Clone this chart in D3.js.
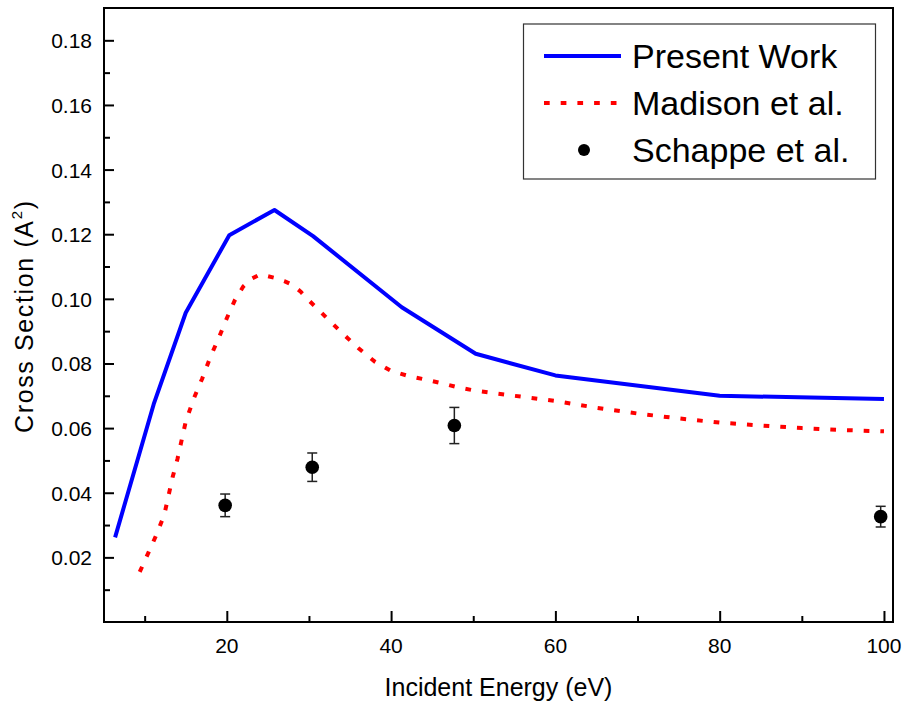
<!DOCTYPE html>
<html>
<head>
<meta charset="utf-8">
<script src="https://cdn.jsdelivr.net/npm/d3@7"></script>
<style>
  body { margin: 0; background: #fff; }
  svg { display: block; font-family: "Liberation Sans", Arial, sans-serif; }
</style>
</head>
<body>
<div id="chart"></div>
<script>
const width = 904;
const height = 704;

// Present Work (solid blue)
const presentX = [6.4, 11.1, 15.0, 20.3, 25.8, 30.5, 41.3, 50.3, 60, 80, 100];
const presentY = [0.0262, 0.0674, 0.0957, 0.1197, 0.1275, 0.1194, 0.0974, 0.0830, 0.0763, 0.0700, 0.0690];

// Madison et al. (red dotted)
const madisonX = [9.4, 10.5, 11.5, 12.4, 13.4, 14.0, 15.0, 16, 17, 18, 19, 20, 21, 22, 23, 24, 25, 26, 27, 28, 29, 30,
  32, 34, 36, 38, 40, 42, 44, 46, 48, 50, 55, 60, 65, 70, 75, 80, 85, 90, 95, 100];
const madisonY = [0.0155, 0.0217, 0.0274, 0.0333, 0.0448, 0.0505, 0.0620, 0.0693, 0.0753, 0.0820, 0.0878, 0.0940,
  0.0997, 0.1038, 0.1062, 0.1075, 0.1070, 0.1064, 0.1055, 0.1043, 0.1022, 0.0995,
  0.0945, 0.0895, 0.0848, 0.0806, 0.0777, 0.0762, 0.0751, 0.0740, 0.0727, 0.0717,
  0.0700, 0.0684, 0.0663, 0.0645, 0.0630, 0.0617, 0.0608, 0.0600, 0.0594, 0.0590];

// Schappe et al. (points with error bars)
const schappeX = [19.8, 30.4, 47.7, 99.6];
const schappeY = [0.0361, 0.0479, 0.0608, 0.0326];
const schappeErr = [0.0035, 0.0044, 0.0056, 0.0032];

const xMajor = [20, 40, 60, 80, 100];
const xMinor = [10, 30, 50, 70, 90];
const yMajor = [0.02, 0.04, 0.06, 0.08, 0.10, 0.12, 0.14, 0.16, 0.18];
const yMinor = [0.01, 0.03, 0.05, 0.07, 0.09, 0.11, 0.13, 0.15, 0.17];

const legendLabels = ['Present Work', 'Madison et al.', 'Schappe et al.'];

const margin = { left: 104, right: 11, top: 8, bottom: 82 };

const x = d3.scaleLinear().domain([5.05, 101.1]).range([margin.left, width - margin.right]);
const y = d3.scaleLinear().domain([0, 0.19]).range([height - margin.bottom, margin.top]);

const svg = d3.select('#chart').append('svg')
    .attr('width', width)
    .attr('height', height);

const plotBottom = height - margin.bottom;
const plotRight = width - margin.right;

// inward ticks
const xAxis = svg.append('g').attr('transform', `translate(0,${plotBottom})`);
xAxis.append('g').call(d3.axisTop(x).tickValues(xMajor).tickSize(11).tickFormat(''));
xAxis.append('g').call(d3.axisTop(x).tickValues(xMinor).tickSize(6).tickFormat(''));
xAxis.selectAll('.domain').remove();
xAxis.selectAll('line').attr('stroke', '#000').attr('stroke-width', 2);

xAxis.selectAll('.xlab')
    .data(xMajor)
    .enter()
    .append('text')
    .attr('x', d => x(d))
    .attr('y', 31)
    .attr('text-anchor', 'middle')
    .attr('font-size', 21)
    .attr('fill', '#000')
    .text(d => d);

const yAxis = svg.append('g').attr('transform', `translate(${margin.left},0)`);
yAxis.append('g').call(d3.axisRight(y).tickValues(yMajor).tickSize(10).tickFormat(''));
yAxis.append('g').call(d3.axisRight(y).tickValues(yMinor).tickSize(6).tickFormat(''));
yAxis.selectAll('.domain').remove();
yAxis.selectAll('line').attr('stroke', '#000').attr('stroke-width', 2);

yAxis.selectAll('.ylab')
    .data(yMajor)
    .enter()
    .append('text')
    .attr('x', -12)
    .attr('y', d => y(d) + 8)
    .attr('text-anchor', 'end')
    .attr('font-size', 21)
    .attr('fill', '#000')
    .text(d => d.toFixed(2));

// frame
svg.append('rect')
    .attr('x', margin.left)
    .attr('y', margin.top)
    .attr('width', plotRight - margin.left)
    .attr('height', plotBottom - margin.top)
    .attr('fill', 'none')
    .attr('stroke', '#000')
    .attr('stroke-width', 2);

const line = d3.line()
    .x(d => x(d[0]))
    .y(d => y(d[1]));

svg.append('path')
    .datum(d3.zip(madisonX, madisonY))
    .attr('d', line)
    .attr('fill', 'none')
    .attr('stroke', '#ff0000')
    .attr('stroke-width', 4)
    .attr('stroke-dasharray', '5.7,11');

svg.append('path')
    .datum(d3.zip(presentX, presentY))
    .attr('d', line)
    .attr('fill', 'none')
    .attr('stroke', '#0000ff')
    .attr('stroke-width', 4)
    .attr('stroke-linejoin', 'round');

// error bars + points
const pts = svg.append('g');
const schappe = d3.zip(schappeX, schappeY, schappeErr);
schappe.forEach(d => {
    const cx = x(d[0]);
    const g = pts.append('g').attr('stroke', '#222').attr('stroke-width', 1.5);
    g.append('line').attr('x1', cx).attr('x2', cx).attr('y1', y(d[1] - d[2])).attr('y2', y(d[1] + d[2]));
    g.append('line').attr('x1', cx - 5).attr('x2', cx + 5).attr('y1', y(d[1] - d[2])).attr('y2', y(d[1] - d[2]));
    g.append('line').attr('x1', cx - 5).attr('x2', cx + 5).attr('y1', y(d[1] + d[2])).attr('y2', y(d[1] + d[2]));
});
pts.selectAll('circle')
    .data(schappe)
    .enter()
    .append('circle')
    .attr('cx', d => x(d[0]))
    .attr('cy', d => y(d[1]))
    .attr('r', 6.8)
    .attr('fill', '#000');

// axis titles
svg.append('text')
    .attr('x', (margin.left + plotRight) / 2)
    .attr('y', 696)
    .attr('text-anchor', 'middle')
    .attr('font-size', 25)
    .attr('fill', '#000')
    .text('Incident Energy (eV)');

const yTitle = svg.append('text')
    .attr('transform', `translate(33,${(margin.top + plotBottom) / 2 + 2}) rotate(-90)`)
    .attr('text-anchor', 'middle')
    .attr('font-size', 25)
    .attr('fill', '#000')
    .attr('textLength', 232)
    .attr('lengthAdjust', 'spacing');
yTitle.append('tspan').text('Cross Section (A');
yTitle.append('tspan').attr('font-size', 15).attr('dy', -11).text('2');
yTitle.append('tspan').attr('dy', 11).text(')');

// legend
const legend = svg.append('g');
legend.append('rect')
    .attr('x', 523.5)
    .attr('y', 24)
    .attr('width', 352)
    .attr('height', 155)
    .attr('fill', '#fff')
    .attr('stroke', '#333')
    .attr('stroke-width', 1.2);

const legendRows = [56, 103, 150];
legend.append('line')
    .attr('x1', 544).attr('x2', 621)
    .attr('y1', legendRows[0]).attr('y2', legendRows[0])
    .attr('stroke', '#0000ff').attr('stroke-width', 4);
legend.append('line')
    .attr('x1', 544).attr('x2', 621)
    .attr('y1', legendRows[1]).attr('y2', legendRows[1])
    .attr('stroke', '#ff0000').attr('stroke-width', 4)
    .attr('stroke-dasharray', '5.7,11');
legend.append('circle')
    .attr('cx', 584).attr('cy', legendRows[2]).attr('r', 6)
    .attr('fill', '#000');

legend.selectAll('.ltext')
    .data(legendLabels)
    .enter()
    .append('text')
    .attr('x', 632)
    .attr('y', (d, i) => legendRows[i] + 12)
    .attr('font-size', 34)
    .attr('fill', '#000')
    .text(d => d);
</script>
</body>
</html>
